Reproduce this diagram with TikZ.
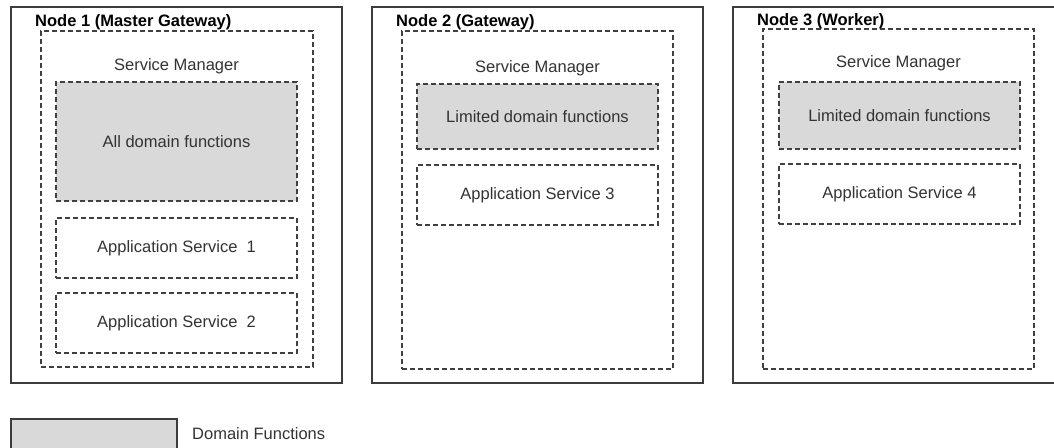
\documentclass[tikz,border=0pt]{standalone}
\usepackage{fontspec}
\setmainfont{Liberation Sans}
\definecolor{edge}{HTML}{3C3C3C}
\definecolor{dash}{HTML}{404040}
\definecolor{greyfill}{HTML}{D9D9D9}
\definecolor{txt}{HTML}{333333}
\begin{document}
\begin{tikzpicture}[x=1pt,y=-1pt,
  font=\fontsize{16.5}{19}\selectfont,
  outerbox/.style={draw=edge,line width=1.4pt,inner sep=0pt,fill=white},
  smbox/.style={draw=dash,line width=1.2pt,dash pattern=on 5pt off 3pt,inner sep=0pt},
  dombox/.style={smbox,fill=greyfill,text=txt},
  appbox/.style={smbox,fill=white,text=txt},
  lbl/.style={text=txt,inner sep=0pt},
  ttl/.style={font=\fontsize{16.5}{19}\selectfont\bfseries,text=black,inner sep=0pt,anchor=base west}]
\useasboundingbox (0,0) rectangle (1054,447);
\clip (0,0) rectangle (1054,447);
\fill[white] (0,0) rectangle (1054,447);

% outer node boxes
\node[outerbox,minimum width=331pt,minimum height=376pt] (node1) at (176.5,195) {};
\node[outerbox,minimum width=331pt,minimum height=376pt] (node2) at (537.5,195) {};
\node[outerbox,minimum width=331pt,minimum height=376pt] (node3) at (898.5,195) {};

% service manager boxes
\node[smbox,minimum width=272pt,minimum height=336pt] (sm1) at (177,199) {};
\node[smbox,minimum width=271pt,minimum height=338pt] (sm2) at (537.5,200) {};
\node[smbox,minimum width=271pt,minimum height=340pt] (sm3) at (898.5,199) {};

% titles
\node[ttl] (t1) at (35,27) {Node 1 (Master Gateway)};
\node[ttl] (t2) at (396,27) {Node 2 (Gateway)};
\node[ttl] (t3) at (757,25) {Node 3 (Worker)};

% service manager labels
\node[lbl] (sml1) at (176.5,66) {Service Manager};
\node[lbl] (sml2) at (537.5,68) {Service Manager};
\node[lbl] (sml3) at (898.5,63) {Service Manager};

% node 1 contents
\node[dombox,minimum width=241pt,minimum height=119pt] (dom1) at (176.5,141.5) {All domain functions};
\node[appbox,minimum width=241pt,minimum height=60pt] (app1) at (176.5,248) {Application Service\ \ 1};
\node[appbox,minimum width=241pt,minimum height=60pt] (app2) at (176.5,323) {Application Service\ \ 2};

% node 2 contents
\node[dombox,minimum width=241pt,minimum height=65pt] (dom2) at (537.5,116.5) {Limited domain functions};
\node[appbox,minimum width=241pt,minimum height=60pt] (app3) at (537.5,195) {Application Service 3};

% node 3 contents
\node[dombox,minimum width=241pt,minimum height=67pt] (dom3) at (899.5,115.5) {Limited domain functions};
\node[appbox,minimum width=241pt,minimum height=60pt] (app4) at (899.5,194) {Application Service 4};

% legend
\node[draw=edge,line width=1.4pt,fill=greyfill,minimum width=166pt,minimum height=40pt,inner sep=0pt] (leg) at (94,439) {};
\node[lbl,anchor=west] (legt) at (192,434) {Domain Functions};
\end{tikzpicture}
\end{document}
